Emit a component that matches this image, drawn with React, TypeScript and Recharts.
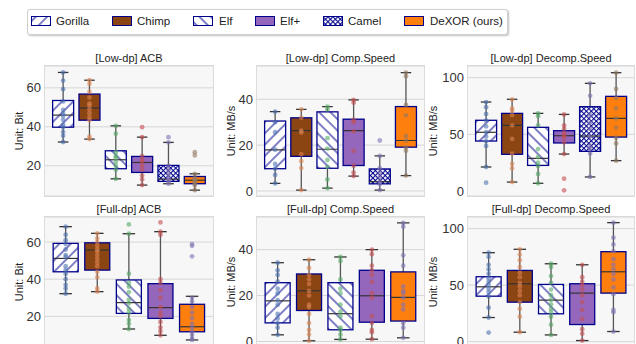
import { ComposedChart, Bar, XAxis, YAxis, CartesianGrid } from 'recharts';

const methods = ['Gorilla', 'Chimp', 'Elf', 'Elf+', 'Camel', 'DeXOR (ours)'];
const lowMethods = [0, 1, 2, 3, 4, 5];
const fullMethods = [0, 1, 2, 3, 5]; // no Camel in full-dp runs

// box stats: [whiskerLo, q1, median, q3, whiskerHi]
const lowAcbStats = [
  [32.2, 39.8, 46, 53.5, 67.9],
  [33.7, 43.4, 49.6, 56.8, 63.9],
  [13.3, 18.5, 23.1, 27.7, 40.5],
  [10.1, 16.6, 21.7, 24.8, 34.7],
  [10.8, 12, 13.2, 20.2, 32],
  [7.5, 10.8, 12.6, 14.5, 15.9],
];
const lowAcbPoints = [
  [67.9, 63.7, 59.3, 53, 48.7, 46.7, 45.6, 43.6, 41, 39.8, 37.3, 35.4, 32.2],
  [63.9, 62, 58, 55, 52, 51, 49, 47, 45, 43.4, 35, 33.7],
  [40.5, 36.5, 27, 25, 24, 22, 20, 18, 13.3],
  [39.8, 34.7, 25, 23, 22, 20, 18, 15, 13, 10.1],
  [34.7, 32, 20, 18, 16, 14, 13, 12, 10.8],
  [27, 25.3, 15.9, 14, 13, 12.5, 12, 11, 10, 7.5],
];

const lowCompStats = [
  [3.3, 9.7, 17.9, 30.5, 34.6],
  [0.4, 15.1, 26.3, 31.9, 35.6],
  [1.2, 9.9, 18.2, 34.5, 36.8],
  [6.5, 11.1, 26.3, 31.3, 39.7],
  [0.4, 3.1, 4.1, 9.6, 15.3],
  [6.7, 19.1, 22, 36.8, 51.6],
];
const lowCompPoints = [
  [34.6, 30, 25.6, 18, 11.8, 9.7, 7, 3.3],
  [35.6, 32, 26.3, 25.5, 16, 13, 10, 0.4],
  [36.8, 35.5, 23, 18.5, 13.5, 10.5, 5, 1.2],
  [39.7, 38.5, 31, 30, 26, 17.5, 11, 8, 6.5],
  [22, 15.3, 10, 8, 6, 4, 3, 0.4],
  [51.6, 50, 37.5, 33, 24, 22, 19, 17.5, 6.7],
];

const lowDecompStats = [
  [21.2, 44.1, 51.8, 62.4, 78.5],
  [7.9, 32.4, 57.9, 68.5, 80.9],
  [6.8, 22.6, 28.8, 56.2, 68.5],
  [32.6, 42.4, 48.8, 53.2, 67.6],
  [12.4, 35, 48.5, 74.4, 95],
  [26.8, 47.6, 64.1, 83.5, 104.4],
];
const lowDecompPoints = [
  [78.5, 74, 68, 62, 57, 52, 48, 44, 39.7, 21.2, 7.4],
  [80.9, 73, 71, 67, 58, 46, 33, 24, 20, 7.9],
  [68.5, 66, 58, 37, 30, 25, 22, 15, 6.8],
  [67.6, 58, 55, 51, 49, 47, 43, 32.6, 10.9, 0.6],
  [95, 84, 67, 60, 55, 48, 40, 37, 33, 12.4],
  [104.4, 90, 82, 73, 64, 56, 47, 42, 26.8],
];

const fullAcbStats = [
  [32.2, 44, 51.2, 59.3, 68.3],
  [33.3, 44.9, 55.7, 59.6, 64.7],
  [13.2, 21.6, 27.4, 39.6, 64.5],
  [9.8, 18.9, 24.7, 37.6, 65.6],
  [7.3, 11.7, 14.4, 26.5, 30.8],
];
const fullAcbPoints = [
  [68.3, 64, 61, 59, 56, 53, 52, 47, 45, 43, 40, 37, 35, 32.2],
  [64.7, 62, 60, 58, 56, 55, 53, 51, 49, 47, 44, 41, 35, 33.3],
  [69.5, 64.5, 43, 38, 36, 33, 29, 27, 24, 22, 18, 16, 13.2],
  [70.6, 65.6, 64, 40, 38, 34, 30, 25, 22, 20, 17, 14, 12, 9.8],
  [58.9, 58, 52.3, 30, 28, 25, 22, 19, 16, 14, 12, 10, 8, 7.3],
];

const fullCompStats = [
  [2.9, 8.1, 17.7, 25.6, 34.3],
  [0.3, 13.5, 22.1, 29.4, 35.6],
  [0.9, 5.1, 12.1, 25.6, 36.8],
  [1, 8.4, 19.9, 31, 40],
  [1.6, 8.9, 19.2, 30.3, 51.6],
];
const fullCompPoints = [
  [34.3, 31, 29, 26, 23, 21, 18, 16, 12, 10, 8, 6, 2.9],
  [35.6, 32, 29, 27, 25, 22, 20, 16, 15, 12, 8, 5, 3, 0.3],
  [36.8, 35, 27, 23, 21, 16, 13, 11, 6, 5, 3, 0.9],
  [40, 38, 33, 31, 29, 26, 21, 19, 11, 8, 5, 4, 1],
  [51.6, 50, 37.5, 33, 24, 22, 21, 19, 16, 14, 8, 6, 1.6],
];

const fullDecompStats = [
  [21.3, 40.2, 48.5, 57.4, 78.7],
  [8.3, 34.9, 51.2, 63, 81.7],
  [5.9, 24.6, 36.7, 50.6, 68.9],
  [0.9, 15.1, 42.9, 51.2, 68],
  [8.9, 42.9, 61.8, 79.6, 105.3],
];
const fullDecompPoints = [
  [78.7, 75, 68, 64, 60, 56, 53, 50, 47, 44, 40, 30, 21.3, 8],
  [81.7, 77, 72, 66, 61, 57, 52, 49, 45, 41, 35, 29, 22, 8.3],
  [68.9, 66, 58, 52, 46, 41, 37, 33, 29, 26, 22, 15, 5.9],
  [68, 57, 53, 50, 46, 41, 35, 28, 20, 11, 7, 0.9],
  [105.3, 92, 86, 80, 73, 68, 64, 60, 55, 48, 42, 28, 26, 8.9],
];

const NAVY = '#00008B';
const boxFills = ['url(#hatchFwd)', '#8B4513', 'url(#hatchBack)', '#9467bd', 'url(#hatchCross)', '#ff7f0e'];
const dotColors = ['#4C72B0', '#DD8452', '#55A868', '#C44E52', '#8172B3', '#937860'];

const panels = [
  { title: '[Low-dp] ACB', unit: 'Unit: Bit', stats: lowAcbStats, points: lowAcbPoints, idx: lowMethods, domain: [4.5, 71.2], ticks: [20, 40, 60], left: 45, top: 66, width: 168, labelOff: 19 },
  { title: '[Low-dp] Comp.Speed', unit: 'Unit: MB/s', stats: lowCompStats, points: lowCompPoints, idx: lowMethods, domain: [-2.2, 54.5], ticks: [0, 20, 40], left: 257, top: 66, width: 167, labelOff: 19 },
  { title: '[Low-dp] Decomp.Speed', unit: 'Unit: MB/s', stats: lowDecompStats, points: lowDecompPoints, idx: lowMethods, domain: [-4.4, 110.3], ticks: [0, 50, 100], left: 468, top: 66, width: 166, labelOff: 10 },
  { title: '[Full-dp] ACB', unit: 'Unit: Bit', stats: fullAcbStats, points: fullAcbPoints, idx: fullMethods, domain: [3.5, 73.5], ticks: [20, 40, 60], left: 45, top: 217, width: 168, labelOff: 19 },
  { title: '[Full-dp] Comp.Speed', unit: 'Unit: MB/s', stats: fullCompStats, points: fullCompPoints, idx: fullMethods, domain: [-2.4, 54.2], ticks: [0, 20, 40], left: 257, top: 217, width: 167, labelOff: 19 },
  { title: '[Full-dp] Decomp.Speed', unit: 'Unit: MB/s', stats: fullDecompStats, points: fullDecompPoints, idx: fullMethods, domain: [-4.8, 110.3], ticks: [0, 50, 100], left: 468, top: 217, width: 166, labelOff: 10 },
];

const PLOT_H = 130;
const AXIS_W = 45;

function BoxShape(props: any) {
  const { x, y, width, height, payload, fill, dot } = props;
  const { lo, q1, med, q3, hi, pts } = payload;
  const k = height / (hi - lo);
  const py = (v: number) => y + (hi - v) * k;
  const cx = x + width / 2;
  const cap = width / 4;
  return (
    <g>
      <line x1={cx} x2={cx} y1={py(hi)} y2={py(q3)} stroke="#555" strokeWidth={1.3} />
      <line x1={cx} x2={cx} y1={py(q1)} y2={py(lo)} stroke="#555" strokeWidth={1.3} />
      <line x1={cx - cap} x2={cx + cap} y1={py(hi)} y2={py(hi)} stroke="#333" strokeWidth={1.3} />
      <line x1={cx - cap} x2={cx + cap} y1={py(lo)} y2={py(lo)} stroke="#333" strokeWidth={1.3} />
      <rect x={x} y={py(q3)} width={width} height={py(q1) - py(q3)} fill={fill} stroke={NAVY} strokeWidth={1.3} />
      <line x1={x} x2={x + width} y1={py(med)} y2={py(med)} stroke="#333" strokeWidth={1.2} />
      {pts.map((v: number, i: number) => (
        <circle key={i} cx={cx} cy={py(v)} r={2.4} fill={dot} fillOpacity={0.6} />
      ))}
    </g>
  );
}

function Panel({ cfg }: { cfg: any }) {
  const data = cfg.stats.map((s: number[], i: number) => ({
    name: methods[cfg.idx[i]],
    range: [s[0], s[4]],
    lo: s[0], q1: s[1], med: s[2], q3: s[3], hi: s[4],
    pts: cfg.points[i],
  }));
  const chartLeft = cfg.left - AXIS_W;
  const chartTop = cfg.top - 10;
  return (
    <>
      <div style={{
        position: 'absolute', left: cfg.left - 1, top: cfg.top - 1, width: cfg.width + 2, height: PLOT_H + 2,
        boxSizing: 'border-box', border: '1px solid #dcdcdc', background: '#f7f7f7',
      }} />
      <div style={{
        position: 'absolute', left: cfg.left, width: cfg.width, top: cfg.top - 14, textAlign: 'center',
        fontSize: 11, lineHeight: '12px', color: '#222',
      }}>{cfg.title}</div>
      <div style={{ position: 'absolute', left: chartLeft, top: chartTop }}>
        <ComposedChart
          width={AXIS_W + cfg.width + 2}
          height={PLOT_H + 14}
          data={data}
          margin={{ top: 10, right: 2, bottom: 4, left: 0 }}
          barCategoryGap="10%"
        >
          <CartesianGrid vertical={false} stroke="#d6d6d6" />
          <XAxis dataKey="name" hide padding={{ left: 5, right: 5 }} />
          <YAxis
            width={AXIS_W}
            domain={cfg.domain}
            ticks={cfg.ticks}
            allowDataOverflow
            axisLine={false}
            tickLine={false}
            tickSize={2}
            tickMargin={2}
            tick={{ fontSize: 13, fill: '#333' }}
            label={{
              value: cfg.unit, angle: -90, position: 'insideLeft', offset: cfg.labelOff,
              style: { textAnchor: 'middle', fontSize: 11, fill: '#222' },
            }}
          />
          <Bar
            dataKey="range"
            isAnimationActive={false}
            shape={(p: any) => (
              <BoxShape {...p} fill={boxFills[cfg.idx[p.index]]} dot={dotColors[p.index]} />
            )}
          />
        </ComposedChart>
      </div>
    </>
  );
}

const legendPatchX = [31, 112, 193, 255, 323, 404];
const legendTextX = [56, 137, 219, 280, 348, 430];

export default function App() {
  return (
    <div style={{
      position: 'absolute', left: 0, top: 0, width: 636, height: 344, overflow: 'hidden',
      background: '#fff', fontFamily: '"Liberation Sans", Arial, sans-serif',
    }}>
      <svg width={0} height={0} style={{ position: 'absolute' }}>
        <defs>
          <pattern id="hatchFwd" patternUnits="userSpaceOnUse" width={8} height={8} patternTransform="rotate(45)">
            <rect width={8} height={8} fill="#fff" />
            <line x1={4} y1={0} x2={4} y2={8} stroke={NAVY} strokeWidth={1} />
          </pattern>
          <pattern id="hatchBack" patternUnits="userSpaceOnUse" width={8} height={8} patternTransform="rotate(-45)">
            <rect width={8} height={8} fill="#fff" />
            <line x1={4} y1={0} x2={4} y2={8} stroke={NAVY} strokeWidth={1} />
          </pattern>
          <pattern id="hatchCross" patternUnits="userSpaceOnUse" width={3.5} height={3.5} patternTransform="rotate(45)">
            <rect width={3.5} height={3.5} fill="#fff" />
            <line x1={0.5} y1={0} x2={0.5} y2={3.5} stroke={NAVY} strokeWidth={1.1} />
            <line x1={0} y1={0.5} x2={3.5} y2={0.5} stroke={NAVY} strokeWidth={1.1} />
          </pattern>
        </defs>
      </svg>

      <div style={{
        position: 'absolute', left: 27, top: 9, width: 481, height: 26, boxSizing: 'border-box',
        border: '1px solid #cfcfcf', borderRadius: 3, boxShadow: '1px 1px 2px rgba(0,0,0,0.25)', background: '#fff',
      }} />
      {methods.map((m, i) => (
        <div key={m}>
          <svg width={20} height={10} style={{ position: 'absolute', left: legendPatchX[i], top: 16 }}>
            <rect x={0.5} y={0.5} width={19} height={9} fill={boxFills[i]} stroke={NAVY} strokeWidth={1} />
          </svg>
          <div style={{
            position: 'absolute', left: legendTextX[i], top: 14, fontSize: 11.5, lineHeight: '14px', color: '#222',
            whiteSpace: 'nowrap',
          }}>{m}</div>
        </div>
      ))}

      {panels.map((p) => (
        <Panel key={p.title} cfg={p} />
      ))}
    </div>
  );
}
